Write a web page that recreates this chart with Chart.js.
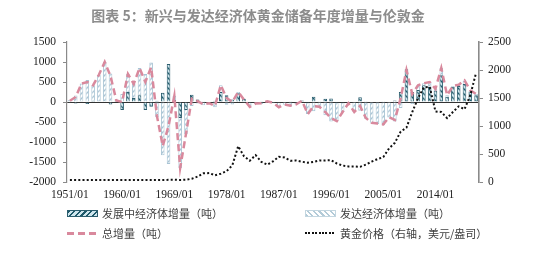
<!DOCTYPE html>
<html><head><meta charset="utf-8">
<script src="https://cdn.jsdelivr.net/npm/chart.js@4"></script>
<style>
html,body{margin:0;padding:0;background:#fff;}
#wrap{position:relative;width:550px;height:262px;overflow:hidden;background:#fff;}
#title{position:absolute;left:0;top:6px;width:516px;text-align:center;font:bold 14px "Noto Sans CJK SC";color:#8c8c8c;line-height:18px;}
#c{position:absolute;left:0;top:0;}
.lg{position:absolute;font:11px "Noto Sans CJK SC";color:#404040;display:flex;align-items:center;white-space:nowrap;line-height:14px;}
.sw{display:inline-block;width:31px;margin-right:4px;box-sizing:border-box;}
</style></head>
<body>
<div id="wrap">
<canvas id="c" width="550" height="262"></canvas>
<div id="title">图表 5：新兴与发达经济体黄金储备年度增量与伦敦金</div>
<div class="lg" style="left:67px;top:206px;"><span class="sw" style="height:7px;border:1px solid #2b5d6e;background:repeating-linear-gradient(135deg,#1f5a6b 0 1.6px,#cfe6ee 1.6px 4px);"></span>发展中经济体增量（吨）</div>
<div class="lg" style="left:305px;top:206px;"><span class="sw" style="height:7px;border:1px solid #c3d6e0;background:repeating-linear-gradient(45deg,#b3cbd8 0 1.6px,#fff 1.6px 4px);"></span>发达经济体增量（吨）</div>
<div class="lg" style="left:67px;top:226px;"><span class="sw" style="height:3px;background:repeating-linear-gradient(90deg,#d9899d 0 7px,transparent 7px 11px);"></span>总增量（吨）</div>
<div class="lg" style="left:305px;top:226px;"><span class="sw" style="height:2px;background:repeating-linear-gradient(90deg,#111 0 2px,transparent 2px 3.4px);"></span>黄金价格（右轴，美元/盎司）</div>
</div>
<script>
const years = [1951,1952,1953,1954,1955,1956,1957,1958,1959,1960,1961,1962,1963,1964,1965,1966,1967,1968,1969,1970,
1971,1972,1973,1974,1975,1976,1977,1978,1979,1980,1981,1982,1983,1984,1985,1986,1987,1988,1989,1990,
1991,1992,1993,1994,1995,1996,1997,1998,1999,2000,2001,2002,2003,2004,2005,2006,2007,2008,2009,2010,
2011,2012,2013,2014,2015,2016,2017,2018,2019,2020,2021];
const xTickLabels = ['1951/01','1960/01','1969/01','1978/01','1987/01','1996/01','2005/01','2014/01'];
const leftTicks = [-2000,-1500,-1000,-500,0,500,1000,1500];
const rightTicks = [0,500,1000,1500,2000,2500];

// 发展中经济体增量（吨）
const developing = [-20,-40,20,-50,30,0,20,-60,40,-200,250,100,170,-200,-120,30,230,950,50,-400,
-200,180,60,20,-20,30,250,170,60,220,80,-30,10,20,30,10,-20,10,20,-20,
40,-30,130,20,80,90,-30,-20,10,-10,120,20,-10,10,20,10,40,250,820,250,
300,420,380,290,670,130,380,400,450,260,170];
// 发达经济体增量（吨）
const developed = [50,165,440,550,390,680,980,710,0,200,450,350,680,700,990,-380,-1330,-1550,100,-1250,
-600,-100,-40,-80,-10,-130,170,-70,-60,30,-20,-90,-50,-50,-10,-30,-110,-70,-110,-40,
-10,-270,-230,-140,-330,-490,-450,-230,-40,-240,-220,-420,-510,-550,-580,-390,-490,-150,-20,-50,
120,50,120,40,180,40,20,30,90,30,30];
// 总增量（吨）
const total = [30,125,460,500,420,680,1000,650,40,0,700,450,850,500,870,-350,-1100,-600,150,-1650,
-800,80,20,-60,-30,-100,420,100,0,250,60,-120,-40,-30,20,-20,-130,-60,-90,-60,
30,-300,-100,-120,-250,-400,-480,-250,-30,-250,-100,-400,-520,-540,-560,-380,-450,100,800,200,
420,470,500,330,850,170,400,430,540,290,200];
// 黄金价格（右轴，美元/盎司）
const gold = [35,35,35,35,35,35,35,35,35,35,35,35,35,35,35,35,35,39,41,36,
41,58,97,155,160,120,148,193,300,640,460,380,480,360,310,368,450,437,381,383,
362,344,360,384,384,390,331,294,279,279,271,310,363,409,445,600,700,900,970,1250,
1500,1690,1700,1260,1250,1140,1250,1350,1300,1550,1950];

function pattern(bg, fg, dir){
  const p = document.createElement('canvas'); p.width = 5; p.height = 5;
  const g = p.getContext('2d');
  g.fillStyle = bg; g.fillRect(0,0,5,5);
  g.strokeStyle = fg; g.lineWidth = 1.4;
  g.beginPath();
  if (dir > 0){ g.moveTo(-1,6); g.lineTo(6,-1); g.moveTo(-1,1); g.lineTo(1,-1); g.moveTo(4,6); g.lineTo(6,4); }
  else { g.moveTo(-1,-1); g.lineTo(6,6); g.moveTo(4,-1); g.lineTo(6,1); g.moveTo(-1,4); g.lineTo(1,6); }
  g.stroke();
  return document.getElementById('c').getContext('2d').createPattern(p,'repeat');
}

function draw(){
const devPat = pattern('#cfe6ee', '#1f5a6b', -1);
const advPat = pattern('#ffffff', '#a9c4d4', 1);
const serif = {family:'"Liberation Serif"', size:11.5};
const plain = v => String(v);

new Chart(document.getElementById('c'), {
  type: 'bar',
  data: {
    labels: years.map(y => y + '/01'),
    datasets: [
      {label:'黄金价格（右轴，美元/盎司）', type:'line', data: gold, yAxisID:'y1', order:0,
       borderColor:'#111', borderWidth:2, borderDash:[2,2.2], pointRadius:0, tension:0, fill:false},
      {label:'总增量（吨）', type:'line', data: total, yAxisID:'y', stack:'tot', order:1,
       borderColor:'#d9899d', borderWidth:2.5, borderDash:[7,4], pointRadius:0, tension:0, fill:false},
      {label:'发展中经济体增量（吨）', data: developing, yAxisID:'y', stack:'bars', order:2,
       backgroundColor: devPat, borderColor:'#2b5d6e', borderWidth:1, barPercentage:0.62, categoryPercentage:1},
      {label:'发达经济体增量（吨）', data: developed, yAxisID:'y', stack:'bars', order:3,
       backgroundColor: advPat, borderColor:'#a9c4d4', borderWidth:1, barPercentage:0.62, categoryPercentage:1}
    ]
  },
  options: {
    animation:false, responsive:false, maintainAspectRatio:false,
    layout:{padding:{top:42, bottom:58, left:0, right:0}},
    plugins:{legend:{display:false}, title:{display:false}, tooltip:{enabled:false}},
    scales:{
      x:{stacked:true, offset:true,
         grid:{display:false, drawTicks:false}, border:{display:false},
         ticks:{autoSkip:false, maxRotation:0, minRotation:0, padding:6, color:'#222', font:serif,
                callback:function(v,i){ const l = this.getLabelForValue(v); return xTickLabels.includes(l) ? l : ''; }},
         afterFit:s=>{s.height=22;}},
      y:{stacked:true, position:'left', min:-2000, max:1500,
         afterBuildTicks:s=>{s.ticks = leftTicks.map(v=>({value:v}));},
         grid:{drawOnChartArea:true, color:c=> (c.tick && c.tick.value===0) ? '#333' : 'rgba(0,0,0,0)', lineWidth:1,
               tickLength:4, tickColor:'#8a8a8a'},
         border:{color:'#8a8a8a', width:1.2},
         ticks:{padding:7, color:'#222', font:serif, callback:plain},
         afterFit:s=>{s.width=67;}},
      y1:{position:'right', min:0, max:2500, stacked:false,
         afterBuildTicks:s=>{s.ticks = rightTicks.map(v=>({value:v}));},
         grid:{drawOnChartArea:false, tickLength:4, tickColor:'#8a8a8a'},
         border:{color:'#8a8a8a', width:1.6},
         ticks:{padding:5, color:'#222', font:serif, callback:plain},
         afterFit:s=>{s.width=71;}}
    }
  }
});
}
Promise.all([document.fonts.load('11.5px "Liberation Serif"'), document.fonts.load('11px "Noto Sans CJK SC"')])
  .then(draw, draw);
</script>
</body></html>
